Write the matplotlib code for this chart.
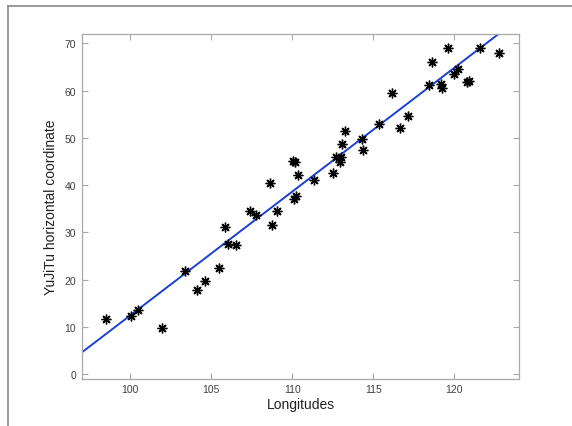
import matplotlib.pyplot as plt
from matplotlib.lines import Line2D

# points
longitudes = [98.5, 100.05, 100.45, 101.95, 103.35, 104.1, 104.6, 105.5, 105.85, 106.05,
              106.55, 107.4, 107.75, 108.62, 108.75, 109.05, 110.05, 110.15, 110.1, 110.25,
              110.35, 111.35, 112.5, 112.72, 113.0, 112.95, 113.05, 113.25, 114.28, 114.35,
              115.35, 116.15, 116.65, 117.15, 118.45, 118.6, 119.2, 119.22, 119.62, 120.0,
              120.22, 120.78, 120.88, 121.6, 122.75]
yujitu_x = [11.6, 12.3, 13.6, 9.8, 21.8, 17.9, 19.7, 22.4, 31.2, 27.6,
            27.4, 34.6, 33.6, 40.5, 31.5, 34.5, 45.1, 44.9, 37.0, 37.7,
            42.1, 41.2, 42.5, 46.0, 46.0, 44.8, 48.7, 51.4, 49.7, 47.5,
            52.9, 59.4, 52.1, 54.6, 61.1, 66.1, 61.4, 60.6, 69.1, 63.6,
            64.5, 61.9, 62.1, 69.1, 67.9]

# fitted line as seen in the picture
fit_point = (97.0, 4.6)
fit_slope = 2.62

xticks = [100, 105, 110, 115, 120]
yticks = [0, 10, 20, 30, 40, 50, 60, 70]

plt.rcParams['font.family'] = ['Liberation Sans', 'DejaVu Sans']

fig = plt.figure(figsize=(5.72, 4.27), dpi=100)
ax = fig.add_axes([0.1428, 0.1112, 0.765, 0.807])

ax.axline(fit_point, slope=fit_slope, color='#1a3fd6', linewidth=1.4, zorder=2)
ax.plot(longitudes, yujitu_x, linestyle='none', marker=(8, 2, 0), markersize=7,
        markeredgewidth=1.0, color='black', zorder=3)

ax.set_xlim(97, 124)
ax.set_ylim(-0.9, 72)
ax.set_xticks(xticks)
ax.set_yticks(yticks)

frame_col = '#a8a8a8'
for s in ax.spines.values():
    s.set_color(frame_col)
    s.set_linewidth(0.9)
ax.tick_params(direction='in', length=4, width=0.8, color=frame_col,
               labelsize=7.5, labelcolor='#404040', top=True, right=True, pad=4)

ax.set_xlabel('Longitudes', fontsize=10, color='#202020', labelpad=2)
ax.set_ylabel('YuJiTu horizontal coordinate', fontsize=10, color='#202020', labelpad=5)

# grey border of the exported window (top and left visible)
fig.add_artist(Line2D([8 / 572, 8 / 572], [0, 1 - 6.5 / 427], transform=fig.transFigure,
                      color='#909090', linewidth=1.3))
fig.add_artist(Line2D([8 / 572, 1], [1 - 6.5 / 427, 1 - 6.5 / 427], transform=fig.transFigure,
                      color='#909090', linewidth=1.3))

fig.savefig('out.png', dpi=100)
